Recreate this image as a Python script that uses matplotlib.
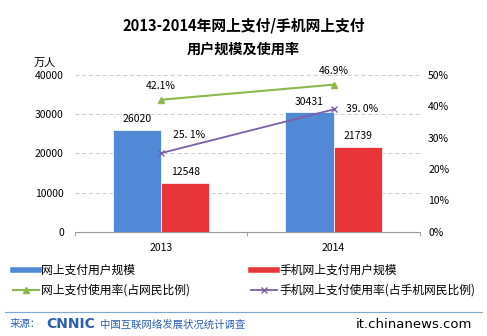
import matplotlib
matplotlib.use("Agg")
import matplotlib.pyplot as plt
from matplotlib.lines import Line2D
import numpy as np

plt.rcParams['font.family'] = ['Noto Sans CJK SC', 'DejaVu Sans']

years = ['2013', '2014']
online_users = [26020, 30431]
mobile_users = [12548, 21739]
online_rate = [42.1, 46.9]
mobile_rate = [25.1, 39.0]
rate_labels_online = ['42.1%', '46.9%']
rate_labels_mobile = ['25. 1%', '39. 0%']
left_ticks = [0, 10000, 20000, 30000, 40000]
right_ticks = [0, 10, 20, 30, 40, 50]

c_blue = '#5189D6'
c_red = '#E8353A'
c_green = '#8DB84A'
c_purple = '#7B5EA8'

fig = plt.figure(figsize=(4.87, 3.36), dpi=100)
ax = fig.add_axes([0.154, 0.310, 0.708, 0.467])
x = np.arange(len(years))
w = 0.28
ax.bar(x - w/2, online_users, w, color=c_blue, edgecolor='white', linewidth=0.5, zorder=3)
ax.bar(x + w/2, mobile_users, w, color=c_red, edgecolor='white', linewidth=0.5, zorder=3)
ax.set_xlim(-0.5, 1.5)
ax.set_ylim(0, 40000)
ax.set_yticks(left_ticks)
ax.set_yticklabels([str(t) for t in left_ticks], fontsize=7.5)
ax.set_xticks(x)
ax.set_xticklabels(years, fontsize=7.5)
ax.set_xticks([-0.5, 0.5, 1.5], minor=True)
ax.tick_params(axis='x', which='major', length=0, pad=8)
ax.tick_params(axis='x', which='minor', length=3, color='#999999')
ax.tick_params(axis='y', length=0, pad=8)
for s in ['top', 'left', 'right']:
    ax.spines[s].set_visible(False)
ax.spines['bottom'].set_color('#999999')
for t in left_ticks[1:]:
    ax.axhline(t, color='#cccccc', linestyle=(0, (4, 3)), linewidth=0.7, zorder=1)
for i in range(len(years)):
    ax.text(x[i] - w/2, online_users[i] + 1500, str(online_users[i]), ha='center', va='bottom', fontsize=7.5)
    ax.text(x[i] + w/2, mobile_users[i] + 1500, str(mobile_users[i]), ha='center', va='bottom', fontsize=7.5)
ax.text(-0.087, 1.045, '万人', transform=ax.transAxes, ha='center', va='bottom', fontsize=8)

ax2 = ax.twinx()
ax2.set_ylim(0, 50)
ax2.set_yticks(right_ticks)
ax2.set_yticklabels([f'{t}%' for t in right_ticks], fontsize=7.5)
ax2.tick_params(axis='y', length=0, pad=6)
for s in ['top', 'left', 'right', 'bottom']:
    ax2.spines[s].set_visible(False)
ax2.plot(x, online_rate, color=c_green, marker='^', markersize=5, linewidth=1.5, zorder=4)
ax2.plot(x, mobile_rate, color=c_purple, marker='x', markersize=5, linewidth=1.3, zorder=4)
mobile_label_dy = [5.8, 0.3]
for i in range(len(years)):
    ax2.text(x[i], online_rate[i] + 2.8, rate_labels_online[i], ha='center', va='bottom', fontsize=7.5)
    ax2.text(x[i] + 0.07, mobile_rate[i] + mobile_label_dy[i], rate_labels_mobile[i], ha='left', va='center', fontsize=7.5)

fig.text(0.5, 0.925, '2013-2014年网上支付/手机网上支付', ha='center', va='center', fontsize=10.6, fontweight='bold')
fig.text(0.5, 0.852, '用户规模及使用率', ha='center', va='center', fontsize=10.2, fontweight='bold')

handles = [
    Line2D([], [], color=c_blue, linewidth=4),
    Line2D([], [], color=c_green, marker='^', markersize=4, linewidth=1.5),
    Line2D([], [], color=c_red, linewidth=4),
    Line2D([], [], color=c_purple, marker='x', markersize=4, linewidth=1.3),
]
labels = ['网上支付用户规模', '网上支付使用率(占网民比例)', '手机网上支付用户规模', '手机网上支付使用率(占手机网民比例)']
fig.legend(handles, labels, loc='center left', bbox_to_anchor=(0.005, 0.166), ncol=2, frameon=False,
           fontsize=8.5, handlelength=2.2, handletextpad=0.2, columnspacing=5.1, labelspacing=0.6)

fig.add_artist(Line2D([0.01, 0.99], [0.072, 0.072], color='#7FA6D6', linewidth=0.8))
fig.text(0.02, 0.035, '来源：', ha='left', va='center', fontsize=7.5, color='#2E5FB0')
fig.text(0.095, 0.035, 'CNNIC', ha='left', va='center', fontsize=10, color='#2E5FB0', fontweight='bold', family='DejaVu Sans')
fig.text(0.205, 0.035, '中国互联网络发展状况统计调查', ha='left', va='center', fontsize=7.5, color='#2E5FB0')
fig.text(0.97, 0.035, 'it.chinanews.com', ha='right', va='center', fontsize=9.5, color='black', family='DejaVu Sans')

fig.savefig('out.png', dpi=100)
